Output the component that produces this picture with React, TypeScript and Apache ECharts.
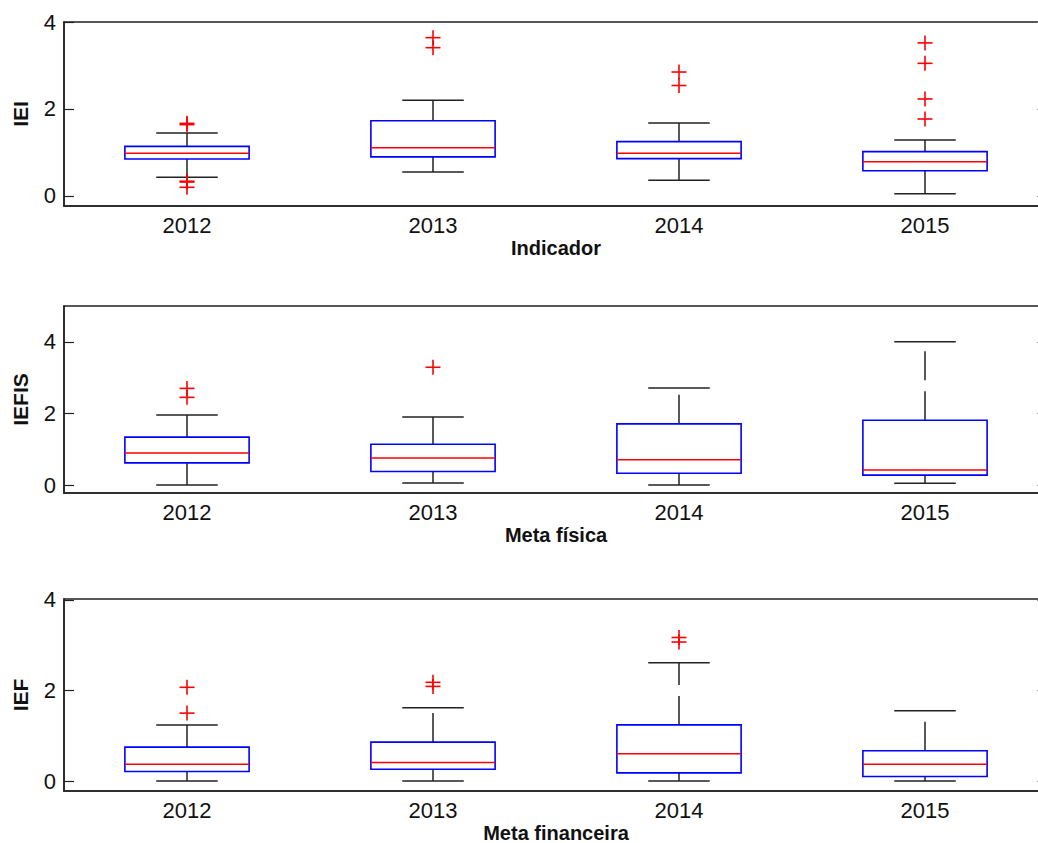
import React, { useEffect, useRef } from "react";
import * as echarts from "echarts";

const years = ["2012", "2013", "2014", "2015"];

// [lower whisker, Q1, median, Q3, upper whisker]
const ieiBoxes = [
  [0.43, 0.85, 0.98, 1.14, 1.45],
  [0.55, 0.9, 1.11, 1.73, 2.2],
  [0.36, 0.86, 0.98, 1.25, 1.68],
  [0.05, 0.58, 0.79, 1.02, 1.29],
];
const ieiOutliers = [
  [0, 1.64], [0, 1.67], [0, 0.34], [0, 0.32], [0, 0.2],
  [1, 3.64], [1, 3.41],
  [2, 2.85], [2, 2.54],
  [3, 3.52], [3, 3.05], [3, 2.23], [3, 1.77],
];

const iefisBoxes = [
  [0.0, 0.62, 0.9, 1.34, 1.96],
  [0.06, 0.38, 0.76, 1.14, 1.9],
  [0.0, 0.33, 0.71, 1.71, 2.71],
  [0.05, 0.28, 0.42, 1.81, 4.0],
];
const iefisOutliers = [
  [0, 2.7], [0, 2.45],
  [1, 3.29],
];

const iefBoxes = [
  [0.0, 0.21, 0.37, 0.75, 1.24],
  [0.0, 0.26, 0.41, 0.86, 1.62],
  [0.0, 0.18, 0.6, 1.24, 2.61],
  [0.0, 0.1, 0.37, 0.67, 1.55],
];
const iefOutliers = [
  [0, 2.07], [0, 1.5],
  [1, 2.18], [1, 2.09],
  [2, 3.17], [2, 3.07],
];

const yTicks = [0, 2, 4];

const panels = [
  { yName: "IEI", xName: "Indicador", boxes: ieiBoxes, outliers: ieiOutliers, top: 22, height: 184, min: -0.23, max: 4 },
  { yName: "IEFIS", xName: "Meta física", boxes: iefisBoxes, outliers: iefisOutliers, top: 306, height: 187, min: -0.22, max: 5 },
  { yName: "IEF", xName: "Meta financeira", boxes: iefBoxes, outliers: iefOutliers, top: 599, height: 192, min: -0.22, max: 4.02 },
];

const FONT = "'Liberation Sans', Arial, sans-serif";

export default function App() {
  const ref = useRef<HTMLDivElement>(null);
  useEffect(() => {
    if (!ref.current) return;
    const chart = echarts.init(ref.current, null, { renderer: "svg" });

    const grids: any[] = [];
    const xAxes: any[] = [];
    const yAxes: any[] = [];
    const series: any[] = [];

    panels.forEach((p, i) => {
      grids.push({
        left: 64,
        width: 984,
        top: p.top,
        height: p.height,
        outerBoundsMode: "none",
        containLabel: false,
        show: true,
        borderColor: "#222",
        borderWidth: 1.5,
        backgroundColor: "transparent",
      });
      xAxes.push({
        type: "category",
        gridIndex: i,
        data: years,
        boundaryGap: true,
        axisLine: { onZero: false, lineStyle: { color: "#222", width: 1.5 } },
        axisTick: { show: false },
        axisLabel: { color: "#111", fontSize: 22, fontFamily: FONT, margin: 8 },
        name: p.xName,
        nameLocation: "middle",
        nameGap: 32,
        nameTextStyle: { color: "#111", fontSize: 20, fontWeight: "bold", fontFamily: FONT },
        splitLine: { show: false },
      });
      yAxes.push({
        type: "value",
        gridIndex: i,
        min: p.min,
        max: p.max,
        position: "left",
        axisLine: { show: true, onZero: false, lineStyle: { color: "#222", width: 1.5 } },
        axisTick: { show: true, inside: true, length: 10, customValues: yTicks, lineStyle: { color: "#222", width: 1.2 } },
        axisLabel: { color: "#111", fontSize: 22, fontFamily: FONT, margin: 8, customValues: yTicks },
        splitLine: { show: false },
        name: p.yName,
        nameLocation: "middle",
        nameGap: 33,
        nameTextStyle: { color: "#111", fontSize: 21, fontWeight: "bold", fontFamily: FONT },
      });
      yAxes.push({
        type: "value",
        gridIndex: i,
        min: p.min,
        max: p.max,
        position: "right",
        axisLine: { show: false, onZero: false },
        axisTick: { show: true, inside: true, length: 11, customValues: yTicks, lineStyle: { color: "#888", width: 1 } },
        axisLabel: { show: false },
        splitLine: { show: false },
      });

      series.push({
        type: "custom",
        xAxisIndex: i,
        yAxisIndex: i * 2,
        data: p.boxes.map((b, k) => [k, ...b]),
        encode: { x: 0, y: [1, 2, 3, 4, 5] },
        renderItem: (params: any, api: any) => {
          const x = api.value(0);
          const band = api.size([1, 0])[0];
          const bw = band * 0.505;
          const cw = band * 0.25;
          const pLow = api.coord([x, api.value(1)]);
          const pQ1 = api.coord([x, api.value(2)]);
          const pMed = api.coord([x, api.value(3)]);
          const pQ3 = api.coord([x, api.value(4)]);
          const pHigh = api.coord([x, api.value(5)]);
          const cx = pMed[0];
          const whisk = { stroke: "#222", lineWidth: 1.5, lineDash: [29, 11] };
          const cap = { stroke: "#222", lineWidth: 1.5 };
          return {
            type: "group",
            children: [
              { type: "line", shape: { x1: cx, y1: pQ3[1], x2: cx, y2: pHigh[1] }, style: whisk },
              { type: "line", shape: { x1: cx, y1: pQ1[1], x2: cx, y2: pLow[1] }, style: whisk },
              { type: "line", shape: { x1: cx - cw / 2, y1: pHigh[1], x2: cx + cw / 2, y2: pHigh[1] }, style: cap },
              { type: "line", shape: { x1: cx - cw / 2, y1: pLow[1], x2: cx + cw / 2, y2: pLow[1] }, style: cap },
              {
                type: "rect",
                shape: { x: cx - bw / 2, y: pQ3[1], width: bw, height: pQ1[1] - pQ3[1] },
                style: { fill: "#fff", stroke: "#0000ff", lineWidth: 1.6 },
              },
              { type: "line", shape: { x1: cx - bw / 2, y1: pMed[1], x2: cx + bw / 2, y2: pMed[1] }, style: { stroke: "#ff0000", lineWidth: 1.5 } },
            ],
          };
        },
      });

      series.push({
        type: "custom",
        xAxisIndex: i,
        yAxisIndex: i * 2,
        data: p.outliers,
        encode: { x: 0, y: 1 },
        renderItem: (params: any, api: any) => {
          const pt = api.coord([api.value(0), api.value(1)]);
          const h = 7.5;
          const st = { stroke: "#ff0000", lineWidth: 1.6 };
          return {
            type: "group",
            children: [
              { type: "line", shape: { x1: pt[0] - h, y1: pt[1], x2: pt[0] + h, y2: pt[1] }, style: st },
              { type: "line", shape: { x1: pt[0], y1: pt[1] - h, x2: pt[0], y2: pt[1] + h }, style: st },
            ],
          };
        },
      });
    });

    chart.setOption({
      animation: false,
      backgroundColor: "#fff",
      grid: grids,
      xAxis: xAxes,
      yAxis: yAxes,
      series,
    });
    return () => chart.dispose();
  }, []);

  return (
    <div
      ref={ref}
      style={{ position: "fixed", left: 0, top: 0, width: 1038, height: 843 }}
    />
  );
}
